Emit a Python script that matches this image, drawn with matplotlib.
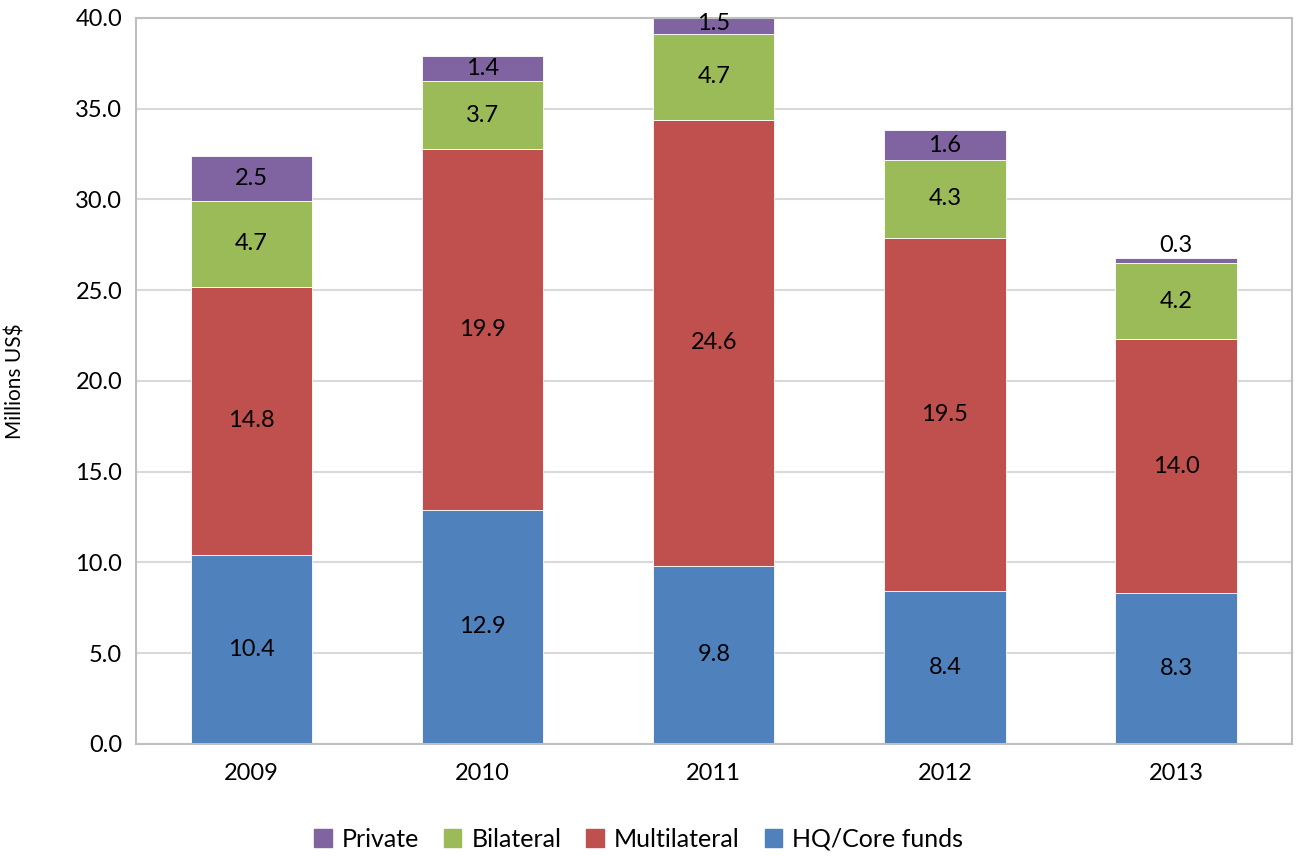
import numpy as np
import matplotlib.pyplot as plt
from matplotlib.patches import Patch

plt.rcParams['font.family'] = ['Lato', 'DejaVu Sans']

years = ['2009', '2010', '2011', '2012', '2013']
hq_core = [10.4, 12.9, 9.8, 8.4, 8.3]
multilateral = [14.8, 19.9, 24.6, 19.5, 14.0]
bilateral = [4.7, 3.7, 4.7, 4.3, 4.2]
private = [2.5, 1.4, 1.5, 1.6, 0.3]

series = [
    ('HQ/Core funds', hq_core, '#4F81BD'),
    ('Multilateral', multilateral, '#C0504D'),
    ('Bilateral', bilateral, '#9BBB59'),
    ('Private', private, '#8064A2'),
]

fig = plt.figure(figsize=(12.98, 8.56), dpi=100)
ax = fig.add_axes([0.1048, 0.131, 0.8902, 0.848])

x = np.arange(len(years))
bottom = np.zeros(len(years))
for name, vals, color in series:
    vals = np.array(vals)
    ax.bar(x, vals, 0.525, bottom=bottom, color=color, edgecolor='white', linewidth=0.6, zorder=2)
    for xi, b, v in zip(x, bottom, vals):
        if v < 1:
            ax.text(xi, b + v + 0.1, f'{v:.1f}', ha='center', va='bottom', fontsize=17, zorder=3)
        else:
            yc = (b + 40) / 2 + 0.15 if b + v > 40 else b + v / 2
            ax.text(xi, yc, f'{v:.1f}', ha='center', va='center', fontsize=17, zorder=3)
    bottom += vals

ax.set_xlim(-0.5, 4.5)
ax.set_ylim(0, 40)
ax.set_yticks(np.arange(0, 40.1, 5))
ax.set_yticklabels([f'{t:.1f}' for t in np.arange(0, 40.1, 5)])
ax.set_xticks(x)
ax.set_xticklabels(years)
ax.tick_params(axis='both', labelsize=17, length=0)
ax.tick_params(axis='x', pad=14)
ax.tick_params(axis='y', pad=10)
ax.yaxis.grid(True, color='#D9D9D9', linewidth=1.5, zorder=0)
ax.set_axisbelow(True)
for s in ax.spines.values():
    s.set_color('#BFBFBF')
    s.set_linewidth(1.5)
ax.set_ylabel('Millions US$', fontsize=15, labelpad=36)

handles = [Patch(color=c, label=n) for n, _, c in series[::-1]]
fig.legend(handles=handles, loc='lower center', bbox_to_anchor=(0.492, -0.02), ncol=4, frameon=False,
           fontsize=18, handlelength=0.7, handleheight=0.7, handletextpad=0.4, columnspacing=1.0)

fig.savefig('out.png', dpi=100)
